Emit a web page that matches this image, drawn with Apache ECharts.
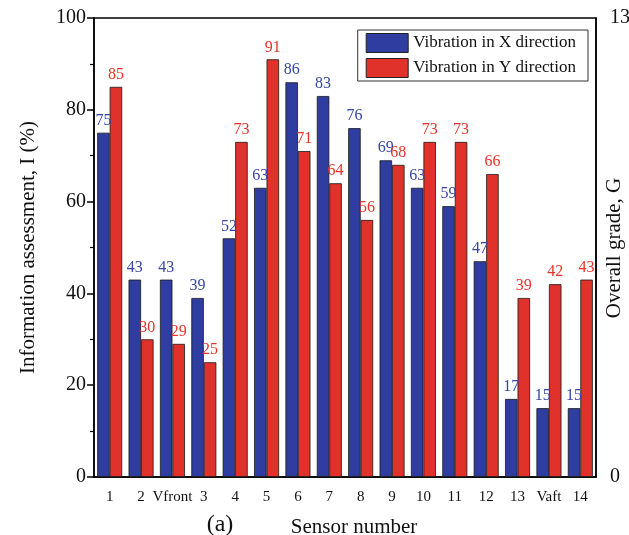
<!DOCTYPE html>
<html>
<head>
<meta charset="utf-8">
<script src="https://cdn.jsdelivr.net/npm/echarts@6/dist/echarts.min.js"></script>
<style>
  html, body { margin: 0; padding: 0; background: #fff; }
  #main { width: 629px; height: 535px; }
</style>
</head>
<body>
<div id="main"></div>
<script>
var sensors = ['1', '2', 'Vfront', '3', '4', '5', '6', '7', '8', '9', '10', '11', '12', '13', 'Vaft', '14'];
var vibX = [75, 43, 43, 39, 52, 63, 86, 83, 76, 69, 63, 59, 47, 17, 15, 15];
var vibY = [85, 30, 29, 25, 73, 91, 71, 64, 56, 68, 73, 73, 66, 39, 42, 43];
var leftTicks = [0, 20, 40, 60, 80, 100];
var rightTicks = [0, 13];

var font = 'Liberation Serif';
var blue = '#2e3d9f';
var red = '#e0312a';

var chart = echarts.init(document.getElementById('main'));

// bar series helper
var makeBar = function(name, data, color, labelColor){
  return {
    name: name,
    type: 'bar',
    data: data,
    barWidth: 12.5,
    barGap: '0%',
    itemStyle: { color: color, borderColor: '#1a1a1a', borderWidth: 0.8 },
    label: {
      show: true,
      position: 'top',
      distance: 4,
      color: labelColor,
      fontFamily: font,
      fontSize: 16
    }
  };
};

chart.setOption({
  animation: false,
  textStyle: { fontFamily: font },
  grid: {
    left: 94, right: 33, top: 18, bottom: 58,
    outerBoundsMode: 'none',
    containLabel: false,
    show: true, borderColor: '#000', borderWidth: 1.5
  },
  legend: {
    orient: 'vertical',
    right: 41, top: 30,
    icon: 'rect',
    itemWidth: 42, itemHeight: 19,
    itemGap: 5,
    padding: [3, 12, 3, 8],
    borderColor: '#333', borderWidth: 1,
    textStyle: { fontFamily: font, fontSize: 17, color: '#111' },
    itemStyle: { borderColor: '#222', borderWidth: 1 },
    data: ['Vibration in X direction', 'Vibration in Y direction']
  },
  xAxis: {
    type: 'category',
    data: sensors,
    axisLine: { lineStyle: { color: '#000', width: 1.5 } },
    axisTick: { alignWithLabel: true, length: 6, lineStyle: { color: '#000', width: 1.5 } },
    axisLabel: { fontFamily: font, fontSize: 15, color: '#111', margin: 13, interval: 0 }
  },
  yAxis: [{
    type: 'value',
    min: leftTicks[0], max: leftTicks[leftTicks.length - 1], interval: 20,
    name: 'Information assessment, I (%)',
    nameLocation: 'middle',
    nameGap: 55,
    nameTextStyle: { fontFamily: font, fontSize: 21, color: '#111' },
    axisLine: { show: true, lineStyle: { color: '#000', width: 1.5 } },
    axisTick: { show: true, length: 7, lineStyle: { color: '#000', width: 1.5 } },
    minorTick: { show: true, splitNumber: 2, length: 4, lineStyle: { color: '#000', width: 1.2 } },
    axisLabel: { fontFamily: font, fontSize: 20, color: '#111', margin: 8 },
    splitLine: { show: false }
  }, {
    type: 'value',
    position: 'right',
    min: rightTicks[0], max: rightTicks[1], interval: 13,
    axisLine: { show: true, lineStyle: { color: '#000', width: 1.5 } },
    axisTick: { show: false },
    axisLabel: { fontFamily: font, fontSize: 20, color: '#111', margin: 14 },
    splitLine: { show: false }
  }],
  graphic: [{
    type: 'text',
    x: 220, y: 525,
    style: { text: '(a)', font: '24px "Liberation Serif"', fill: '#111', align: 'center', verticalAlign: 'middle' }
  }, {
    type: 'text',
    x: 354, y: 527,
    style: { text: 'Sensor number', font: '21px "Liberation Serif"', fill: '#111', align: 'center', verticalAlign: 'middle' }
  }, {
    type: 'text',
    x: 614, y: 248,
    rotation: Math.PI / 2,
    style: { text: 'Overall grade, G', font: '21px "Liberation Serif"', fill: '#111', align: 'center', verticalAlign: 'middle' }
  }],
  series: [
    makeBar('Vibration in X direction', vibX, blue, '#3546a6'),
    makeBar('Vibration in Y direction', vibY, red, '#e8322a')
  ]
});
</script>
</body>
</html>
